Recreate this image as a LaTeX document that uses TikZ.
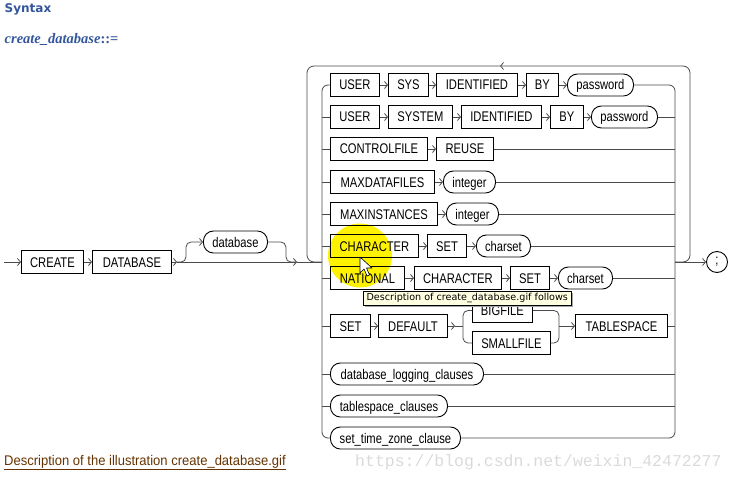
\documentclass[tikz,border=0pt]{standalone}
\usepackage{fontspec}
\setmainfont{Liberation Sans}
\newfontfamily\diagfont[FakeStretch=0.8]{Liberation Sans}
\newfontfamily\linkfont[FakeStretch=0.93]{Liberation Sans}
\newfontfamily\headfont{DejaVu Sans}
\newfontfamily\rulefont{Liberation Serif}
\newfontfamily\tipfont{DejaVu Sans}
\newfontfamily\markfont{Liberation Mono}
\usetikzlibrary{arrows.meta}

\definecolor{orablue}{RGB}{52,86,156}
\definecolor{linkbrown}{RGB}{102,51,0}
\definecolor{tipfill}{RGB}{255,255,225}
\definecolor{railgray}{RGB}{75,75,75}
\definecolor{markgray}{RGB}{218,218,218}

\newcommand\kwfont{\diagfont\fontsize{14}{14}\selectfont}

\tikzset{
  kw/.style={draw, line width=0.9pt, anchor=west, minimum height=23pt, inner sep=0pt,
    text height=12pt, text depth=2pt, font=\kwfont},
  var/.style={kw, rounded corners=10pt, minimum height=22pt},
  rail/.style={draw=railgray, line width=0.8pt},
  arr/.style={rail, -{Straight Barb[length=3pt,width=7pt]}},
}

\begin{document}
\begin{tikzpicture}[x=1pt,y=-1pt]
\useasboundingbox (0,0) rectangle (733,481);

% Headings
\node[anchor=base west, inner sep=0pt, text=orablue, font=\headfont\bfseries\fontsize{12}{12}\selectfont] (syntax) at (4.5,13) {Syntax};
\node[anchor=base west, inner sep=0pt, text=orablue, font=\rulefont\bfseries\fontsize{14.5}{14.5}\selectfont] (rulename) at (4.5,43.5) {\textit{create\_database}::=};

% Highlight behind the CHARACTER row
\fill[yellow] (360,255.5) circle (32);

% Entry: CREATE DATABASE [database]
\coordinate (start) at (4,262);
\coordinate (split) at (177,262);
\coordinate (join) at (297,262);
\node[kw, minimum width=62pt] (create) at (21,262) {CREATE};
\node[kw, minimum width=79pt] (dbkw) at (92,262) {DATABASE};
\node[var, minimum width=64pt] (dbname) at (203,242) {database};
\draw[arr] (start) -- (create);
\draw[arr] (create) -- (dbkw);
\draw[arr] (dbkw) -- (split);
\draw[arr, rounded corners=5pt] (split) -- ++(9,0) |- (dbname.west);
\draw[rail, rounded corners=5pt] (dbname.east) -| ++(18,20) -- (join);
\draw[arr] (split) -- (join);

% Rails of the choice
\coordinate (inL) at (322,262);
\coordinate (inR) at (675,262);
\coordinate (railLt) at (322,85);
\coordinate (railLb) at (322,438);
\coordinate (railRt) at (675,85);
\coordinate (railRb) at (675,438);
\draw[rail] (join) -- (inL);

% Row 1
\node[kw, minimum width=49pt] (r1user) at (330,85) {USER};
\node[kw, minimum width=40pt] (r1sys) at (388,85) {SYS};
\node[kw, minimum width=81pt] (r1ident) at (436,85) {IDENTIFIED};
\node[kw, minimum width=32pt] (r1by) at (526,85) {BY};
\node[var, minimum width=66pt] (r1pwd) at (567,85) {password};
\draw[arr] (r1user) -- (r1sys);
\draw[arr] (r1sys) -- (r1ident);
\draw[arr] (r1ident) -- (r1by);
\draw[arr] (r1by) -- (r1pwd);

% Row 2
\node[kw, minimum width=49pt] (r2user) at (330,117) {USER};
\node[kw, minimum width=64pt] (r2system) at (388,117) {SYSTEM};
\node[kw, minimum width=80pt] (r2ident) at (461,117) {IDENTIFIED};
\node[kw, minimum width=33pt] (r2by) at (550,117) {BY};
\node[var, minimum width=66pt] (r2pwd) at (591,117) {password};
\draw[arr] (r2user) -- (r2system);
\draw[arr] (r2system) -- (r2ident);
\draw[arr] (r2ident) -- (r2by);
\draw[arr] (r2by) -- (r2pwd);

% Rows 3 to 5
\node[kw, minimum width=97pt] (ctlfile) at (330,149) {CONTROLFILE};
\node[kw, minimum width=57pt] (reuse) at (436,149) {REUSE};
\draw[arr] (ctlfile) -- (reuse);
\node[kw, minimum width=104pt] (maxdf) at (330,182) {MAXDATAFILES};
\node[var, minimum width=52pt] (maxdfint) at (443,182) {integer};
\draw[arr] (maxdf) -- (maxdfint);
\node[kw, minimum width=107pt] (maxinst) at (330,214) {MAXINSTANCES};
\node[var, minimum width=52pt] (maxinstint) at (446,214) {integer};
\draw[arr] (maxinst) -- (maxinstint);

% Rows 6 and 7
\node[kw, minimum width=88pt] (chr) at (330,246) {CHARACTER};
\node[kw, minimum width=39pt] (chrset) at (427,246) {SET};
\node[var, minimum width=54pt] (chrcs) at (476,246) {charset};
\draw[arr] (chr) -- (chrset);
\draw[arr] (chrset) -- (chrcs);
\node[kw, minimum width=74pt] (nat) at (330,278) {NATIONAL};
\node[kw, minimum width=87pt] (natchr) at (414,278) {CHARACTER};
\node[kw, minimum width=39pt] (natset) at (510,278) {SET};
\node[var, minimum width=54pt] (natcs) at (558,278) {charset};
\draw[arr] (nat) -- (natchr);
\draw[arr] (natchr) -- (natset);
\draw[arr] (natset) -- (natcs);

% Row 8: SET DEFAULT {BIGFILE|SMALLFILE} TABLESPACE
\coordinate (forkIn) at (455,326);
\coordinate (forkL) at (463,326);
\coordinate (forkR) at (559,326);
\node[kw, minimum width=40pt] (setkw) at (330,326) {SET};
\node[kw, minimum width=69pt] (defkw) at (378,326) {DEFAULT};
\node[kw, minimum width=60pt] (bigf) at (472,310.5) {BIGFILE};
\node[kw, minimum width=78pt] (smallf) at (472,343) {SMALLFILE};
\node[kw, minimum width=92pt] (tbs) at (575,326) {TABLESPACE};
\draw[arr] (setkw) -- (defkw);
\draw[arr] (defkw) -- (forkIn);
\draw[rail] (forkIn) -- (forkL);
\draw[rail, rounded corners=5pt] (bigf.west) -| (forkL) |- (smallf.west);
\draw[rail, rounded corners=5pt] (bigf.east) -| (forkR) |- (smallf.east);
\draw[arr] (forkR) -- (tbs);

% Rows 9 to 11
\node[var, minimum width=153pt] (dblog) at (330,374) {database\_logging\_clauses};
\node[var, minimum width=117pt] (tbsclause) at (330,406) {tablespace\_clauses};
\node[var, minimum width=130pt] (tzclause) at (330,438) {set\_time\_zone\_clause};

% Left and right rails
\draw[rail, rounded corners=6pt] (r1user.west) -- (railLt) -- (railLb) -- (tzclause.west);
\draw[rail, rounded corners=6pt] (r1pwd.east) -- (railRt) -- (railRb) -- (tzclause.east);
\foreach \first/\last in {r2user/r2pwd, ctlfile/reuse, maxdf/maxdfint, maxinst/maxinstint,
    chr/chrcs, nat/natcs, setkw/tbs, dblog/dblog, tbsclause/tbsclause}
  {
  \draw[rail] (railLt |- \first.west) -- (\first.west);
  \draw[rail] (\last.east) -- (railRt |- \last.east);
  }

% Repeat loop and exit
\coordinate (loopR) at (690,262);
\coordinate (looptop) at (500,66);
\coordinate (loopL) at (307,262);
\draw[arr, rounded corners=7pt] (inR) -- (loopR) |- (looptop);
\draw[rail, rounded corners=7pt] (looptop) -| (loopL) -- (inL);
\node[draw, circle, line width=0.9pt, minimum size=21pt, inner sep=0pt, font=\kwfont] (semi) at (717,262) {;};
\draw[arr] (inR) -- (semi);

% Tooltip
\fill[black!35] (365,293) rectangle (573,307);
\node[draw, fill=tipfill, line width=0.5pt, anchor=north west, minimum width=208pt, minimum height=14pt,
  inner sep=0pt, font=\tipfont\fontsize{9.6}{9.6}\selectfont] (tip) at (363,291) {Description of create\_database.gif follows};

% Mouse pointer
\draw[fill=white, line width=0.6pt, line join=round] (360,257) -- ++(0,16) -- ++(4,-4) -- ++(3,7) -- ++(2.5,-1) -- ++(-3,-7) -- ++(5.5,0) -- cycle;

% Link and watermark
\node[anchor=base west, inner sep=0pt, text=linkbrown, font=\linkfont\fontsize{14}{14}\selectfont] (desc) at (4,465) {\underline{Description of the illustration create\_database.gif}};
\node[anchor=base west, inner sep=0pt, text=markgray, font=\markfont\fontsize{16.5}{16.5}\selectfont] (mark) at (355,466) {https://blog.csdn.net/weixin\_42472277};
\end{tikzpicture}
\end{document}
